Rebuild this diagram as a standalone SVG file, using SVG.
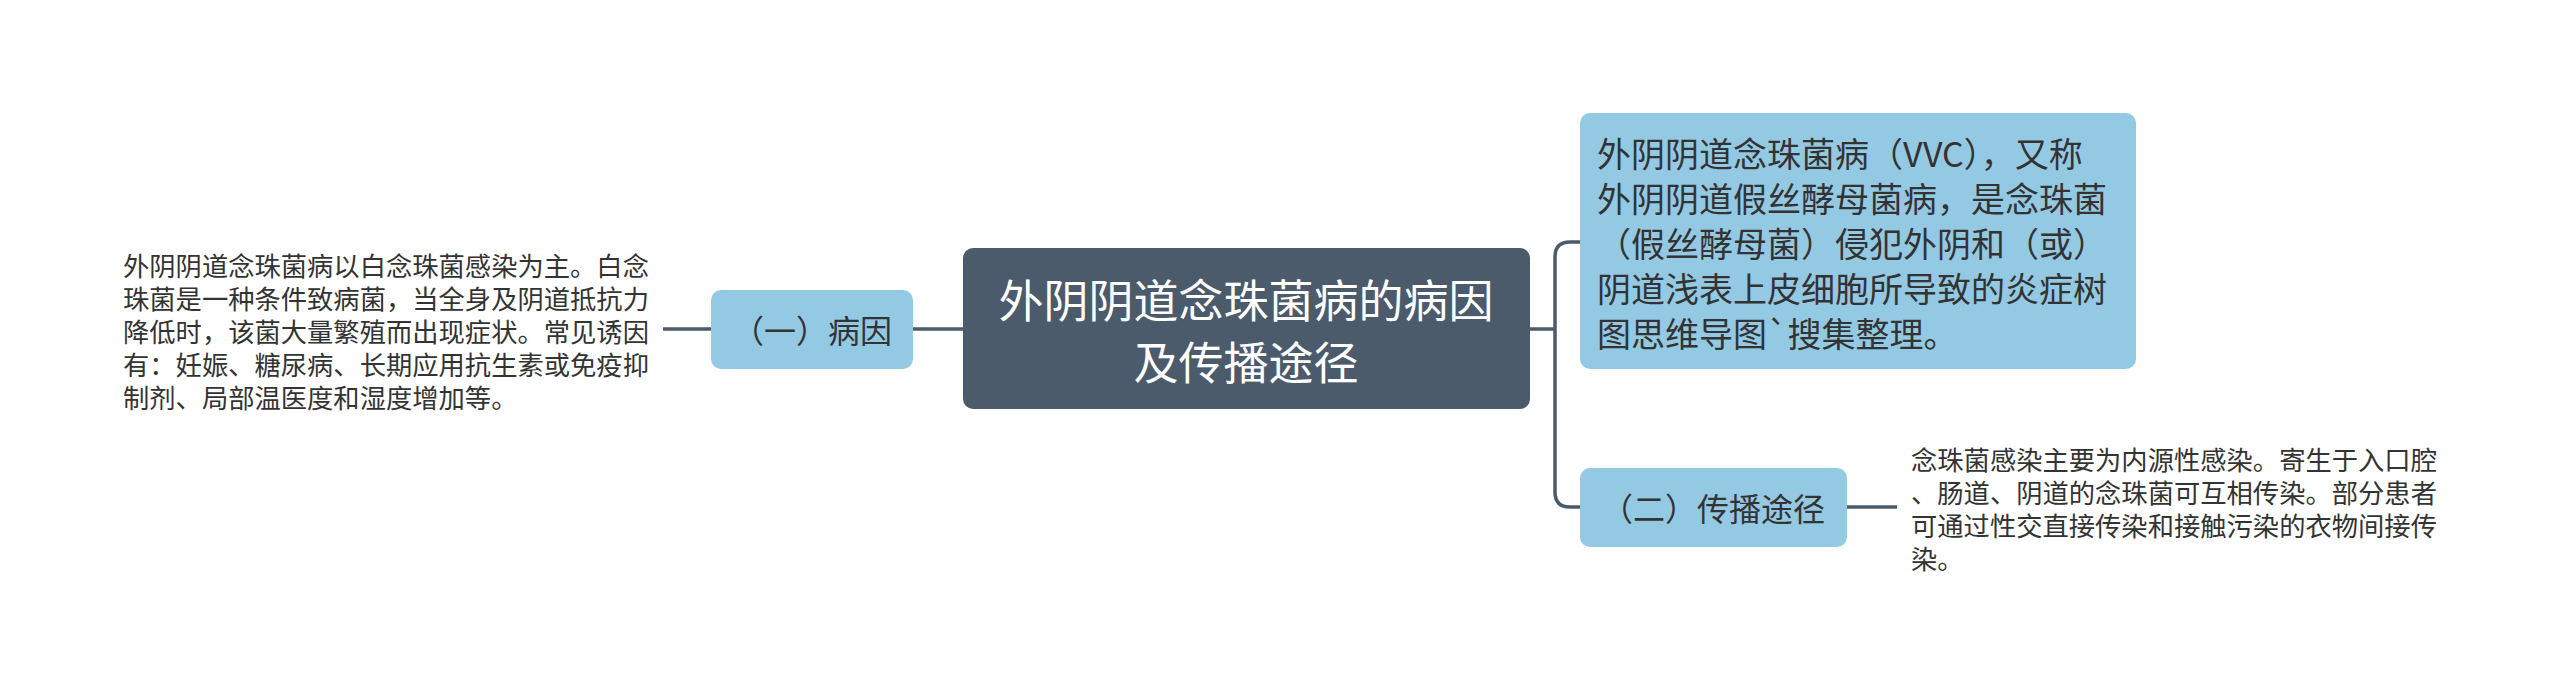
<svg xmlns="http://www.w3.org/2000/svg" width="2560" height="700" viewBox="0 0 2560 700">
<style>
.t{font-family:"Microsoft YaHei","Noto Sans CJK SC","Noto Sans",sans-serif;dominant-baseline:central}
.main{fill:#4b5b6b}
.sub{fill:#94c9e3}
.c{fill:none;stroke:#4b5b6b;stroke-width:3.5}
</style>
<rect width="2560" height="700" fill="#ffffff"/>
<g id="connectors">
<path class="c" d="M913,329 H963"/>
<path class="c" d="M663,329 H711"/>
<path class="c" d="M1530,329 H1555"/>
<path class="c" d="M1555,329 V257 Q1555,242 1570,242 H1580"/>
<path class="c" d="M1555,329 V492 Q1555,507 1570,507 H1580"/>
<path class="c" d="M1847,507 H1897"/>
</g>
<g id="center">
<rect class="main" x="963" y="248" width="567" height="161" rx="10"/>
<text class="t" font-size="45" fill="#ffffff" text-anchor="middle"><tspan x="1246" y="298">外阴阴道念珠菌病的病因</tspan><tspan x="1246" y="360">及传播途径</tspan></text>
</g>
<g id="cause">
<rect class="sub" x="711" y="290" width="202" height="79" rx="10"/>
<text class="t" font-size="32" fill="#333333" text-anchor="middle" x="812" y="329">（一）病因</text>
</g>
<g id="cause-detail">
<text class="t" font-size="26.3" fill="#333333"><tspan x="123" y="264">外阴阴道念珠菌病以白念珠菌感染为主。白念</tspan><tspan x="123" y="297">珠菌是一种条件致病菌，当全身及阴道抵抗力</tspan><tspan x="123" y="330">降低时，该菌大量繁殖而出现症状。常见诱因</tspan><tspan x="123" y="363">有：妊娠、糖尿病、长期应用抗生素或免疫抑</tspan><tspan x="123" y="396">制剂、局部温医度和湿度增加等。</tspan></text>
</g>
<g id="definition">
<rect class="sub" x="1580" y="113" width="556" height="256" rx="10"/>
<text class="t" font-size="34" fill="#333333"><tspan x="1597" y="152">外阴阴道念珠菌病（VVC），又称</tspan><tspan x="1597" y="197">外阴阴道假丝酵母菌病，是念珠菌</tspan><tspan x="1597" y="242">（假丝酵母菌）侵犯外阴和（或）</tspan><tspan x="1597" y="287">阴道浅表上皮细胞所导致的炎症树</tspan><tspan x="1597" y="332">图思维导图`搜集整理。</tspan></text>
</g>
<g id="route">
<rect class="sub" x="1580" y="468" width="267" height="79" rx="10"/>
<text class="t" font-size="32" fill="#333333" text-anchor="middle" x="1713" y="507">（二）传播途径</text>
</g>
<g id="route-detail">
<text class="t" font-size="26.3" fill="#333333"><tspan x="1911" y="458">念珠菌感染主要为内源性感染。寄生于入口腔</tspan><tspan x="1911" y="491">、肠道、阴道的念珠菌可互相传染。部分患者</tspan><tspan x="1911" y="524">可通过性交直接传染和接触污染的衣物间接传</tspan><tspan x="1911" y="557">染。</tspan></text>
</g>
</svg>
